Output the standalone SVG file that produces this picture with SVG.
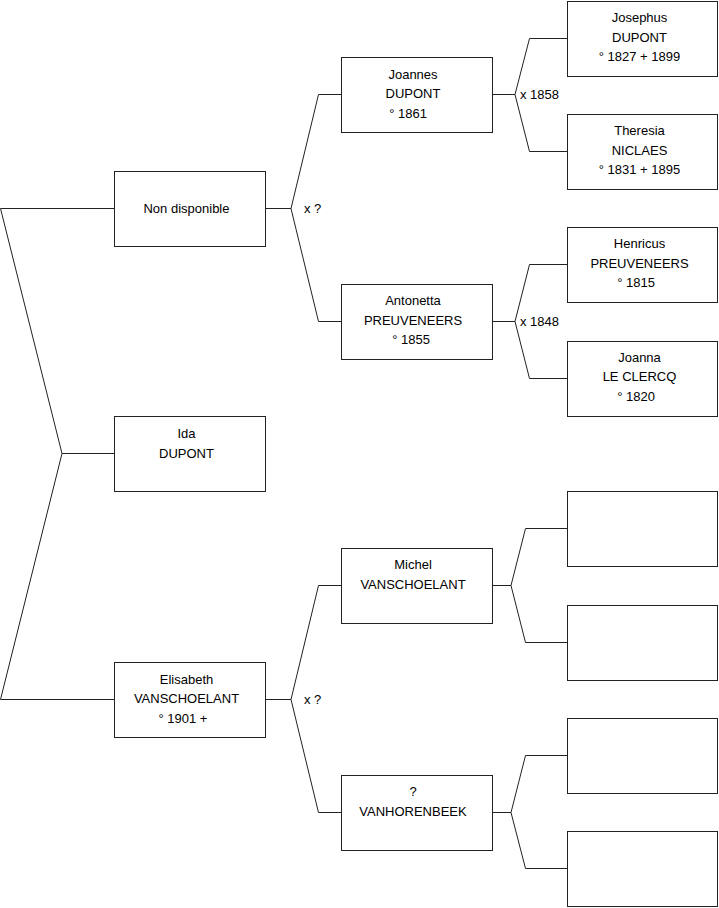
<svg xmlns="http://www.w3.org/2000/svg" width="719" height="908" viewBox="0 0 719 908">
<style>
.box{fill:#fff;stroke:#222;stroke-width:1}
.c{fill:none;stroke:#222;stroke-width:1}
text{font-family:"Liberation Sans",Arial,sans-serif;font-size:13px;fill:#000}
.m{text-anchor:middle}
</style>
<rect width="719" height="908" fill="#fff"/>
<g id="connectors">
<path class="c" d="M114,208.5 H0.5 L62,453.5 L0.5,699.5 H114 M62,453.5 H114"/>
<path class="c" d="M265,208.5 H291 L318.5,94.5 H341 M291,208.5 L318.5,321.5 H341"/>
<path class="c" d="M265,699.5 H291 L318.5,585.5 H341 M291,699.5 L318.5,812.5 H341"/>
<path class="c" d="M492,94.5 H515 L529.5,38.5 H567 M515,94.5 L529.5,151.5 H567"/>
<path class="c" d="M492,321.5 H515 L529.5,264.5 H567 M515,321.5 L529.5,378.5 H567"/>
<path class="c" d="M492,585.5 H511 L525.5,528.5 H567 M511,585.5 L525.5,642.5 H567"/>
<path class="c" d="M492,812.5 H511 L525.5,755.5 H567 M511,812.5 L525.5,868.5 H567"/>
<text x="304" y="212.5">x ?</text>
<text x="304" y="703.5">x ?</text>
<text x="520" y="99">x 1858</text>
<text x="520" y="326">x 1848</text>
</g>
<g id="n-nondisponible"><rect class="box" x="114.5" y="171.5" width="151" height="75"/><text class="m" x="186.5" y="212.5">Non disponible</text></g>
<g id="n-ida"><rect class="box" x="114.5" y="416.5" width="151" height="75"/><text class="m" x="186.5" y="437.5">Ida</text><text class="m" x="186.5" y="457.5">DUPONT</text></g>
<g id="n-elisabeth"><rect class="box" x="114.5" y="662.5" width="151" height="75"/><text class="m" x="186.5" y="683.5">Elisabeth</text><text class="m" x="186.5" y="703">VANSCHOELANT</text><text class="m" x="183" y="722.5">° 1901 +</text></g>
<g id="n-joannes"><rect class="box" x="341.5" y="57.5" width="151" height="75"/><text class="m" x="413" y="78.5">Joannes</text><text class="m" x="413" y="98">DUPONT</text><text class="m" x="408" y="117.5">° 1861</text></g>
<g id="n-antonetta"><rect class="box" x="341.5" y="284.5" width="151" height="75"/><text class="m" x="413" y="305">Antonetta</text><text class="m" x="413" y="324.5">PREUVENEERS</text><text class="m" x="411" y="344">° 1855</text></g>
<g id="n-michel"><rect class="box" x="341.5" y="548.5" width="151" height="75"/><text class="m" x="413" y="569">Michel</text><text class="m" x="413" y="588.5">VANSCHOELANT</text></g>
<g id="n-vanhorenbeek"><rect class="box" x="341.5" y="775.5" width="151" height="75"/><text class="m" x="413" y="796">?</text><text class="m" x="413" y="815.5">VANHORENBEEK</text></g>
<g id="n-josephus"><rect class="box" x="567.5" y="1.5" width="150" height="75"/><text class="m" x="639.5" y="22">Josephus</text><text class="m" x="639.5" y="41.5">DUPONT</text><text class="m" x="639.5" y="61">° 1827 + 1899</text></g>
<g id="n-theresia"><rect class="box" x="567.5" y="114.5" width="150" height="75"/><text class="m" x="639.5" y="135">Theresia</text><text class="m" x="639.5" y="154.5">NICLAES</text><text class="m" x="639.5" y="174">° 1831 + 1895</text></g>
<g id="n-henricus"><rect class="box" x="567.5" y="227.5" width="150" height="75"/><text class="m" x="639.5" y="248">Henricus</text><text class="m" x="639.5" y="267.5">PREUVENEERS</text><text class="m" x="636" y="287">° 1815</text></g>
<g id="n-joanna"><rect class="box" x="567.5" y="341.5" width="150" height="75"/><text class="m" x="639.5" y="361.5">Joanna</text><text class="m" x="639.5" y="381">LE CLERCQ</text><text class="m" x="636" y="400.5">° 1820</text></g>
<g id="n-empty1"><rect class="box" x="567.5" y="491.5" width="150" height="75"/></g>
<g id="n-empty2"><rect class="box" x="567.5" y="605.5" width="150" height="75"/></g>
<g id="n-empty3"><rect class="box" x="567.5" y="718.5" width="150" height="75"/></g>
<g id="n-empty4"><rect class="box" x="567.5" y="831.5" width="150" height="75"/></g>
</svg>
